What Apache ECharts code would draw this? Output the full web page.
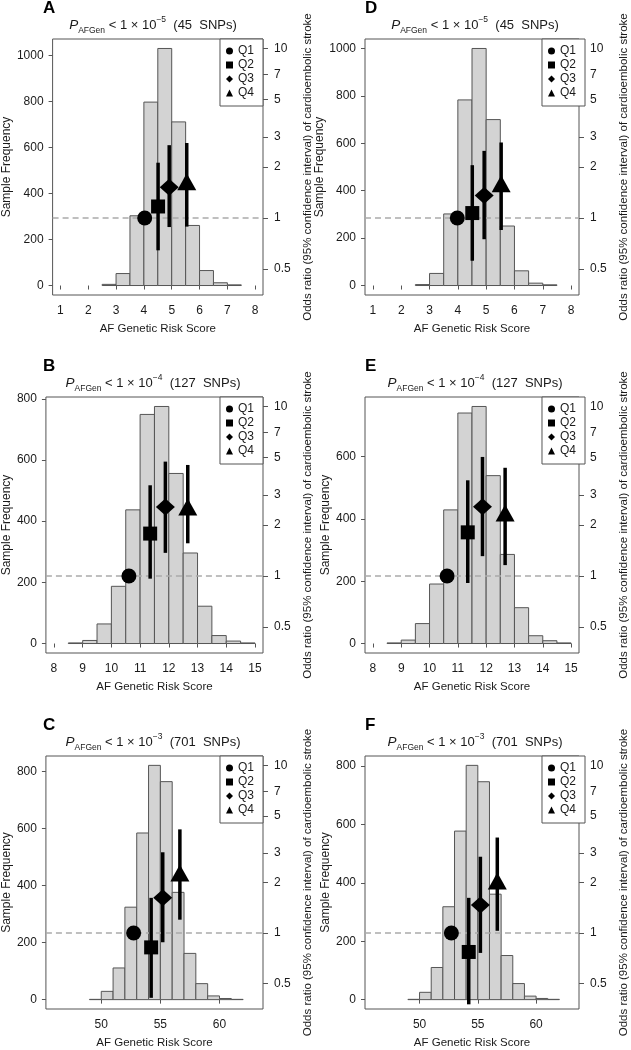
<!DOCTYPE html>
<html><head><meta charset="utf-8">
<script src="https://cdn.jsdelivr.net/npm/echarts@6/dist/echarts.min.js"></script>
<style>html,body{margin:0;padding:0;background:#fff}#c{width:631px;height:1050px}</style>
</head><body><div id="c"></div>
<script>
// ---------- data ----------
const quartiles = ['Q1', 'Q2', 'Q3', 'Q4'];
const panelLetters = ['A', 'B', 'C', 'D', 'E', 'F'];
const thresholdExps = ['−5', '−4', '−3', '−5', '−4', '−3'];
const snpCounts = [45, 127, 701, 45, 127, 701];

// histogram bins (left edges) and widths
const binStartsAD = [2.5, 3, 3.5, 4, 4.5, 5, 5.5, 6, 6.5, 7];
const binStartsBE = [8.5, 9, 9.5, 10, 10.5, 11, 11.5, 12, 12.5, 13, 13.5, 14, 14.5];
const binStartsCF = [49, 50, 51, 52, 53, 54, 55, 56, 57, 58, 59, 60, 61];
const binWidthAD = 0.5, binWidthBE = 0.5, binWidthCF = 1;

// histogram counts
const countsA = [5, 52, 303, 797, 1030, 711, 261, 65, 12, 3];
const countsB = [2, 10, 64, 187, 437, 749, 775, 556, 296, 122, 26, 8, 2];
const countsC = [1, 29, 111, 324, 584, 821, 764, 376, 162, 56, 13, 4, 1];
const countsD = [4, 51, 302, 783, 1000, 700, 251, 62, 10, 3];
const countsE = [2, 11, 64, 191, 429, 740, 761, 539, 286, 115, 25, 9, 2];
const countsF = [1, 25, 110, 318, 577, 802, 746, 361, 151, 55, 12, 4, 1];

// axis limits and tick labels
const xLimAD = [1, 8], xLimBE = [8, 15], xLimCF = [46, 63];
const xTicksAD = [1, 2, 3, 4, 5, 6, 7, 8];
const xTicksBE = [8, 9, 10, 11, 12, 13, 14, 15];
const xTicksCF = [50, 55, 60];
const freqTicks = [0, 200, 400, 600, 800, 1000];
const orTicks = [0.5, 1, 2, 3, 5, 7, 10];
const orLim = [0.4, 10];

// quartile points: score position, odds ratio, 95% CI
const qxA = [4.03, 4.51, 4.91, 5.54], orA = [1.0, 1.17, 1.52, 1.57], loA = [null, 0.645, 0.885, 0.89], hiA = [null, 2.12, 2.69, 2.77];
const qxB = [10.61, 11.35, 11.88, 12.66], orB = [1.0, 1.78, 2.55, 2.45], loB = [null, 0.965, 1.37, 1.56], hiB = [null, 3.43, 4.73, 4.52];
const qxC = [52.74, 54.22, 55.20, 56.65], orC = [1.0, 0.82, 1.62, 2.19], loC = [null, 0.41, 0.88, 1.20], hiC = [null, 1.62, 3.03, 4.15];
const qxD = [3.98, 4.51, 4.93, 5.53], orD = [1.0, 1.07, 1.36, 1.53], loD = [null, 0.56, 0.75, 0.85], hiD = [null, 2.05, 2.49, 2.79];
const qxE = [10.62, 11.35, 11.87, 12.67], orE = [1.0, 1.81, 2.56, 2.26], loE = [null, 0.91, 1.31, 1.16], hiE = [null, 3.67, 5.04, 4.35];
const qxF = [52.73, 54.22, 55.22, 56.67], orF = [1.0, 0.77, 1.47, 1.96], loF = [null, 0.375, 0.76, 1.03], hiF = [null, 1.62, 2.85, 3.71];

// ---------- assembly ----------
const panels = [
  {bins: binStartsAD, w: binWidthAD, counts: countsA, xlim: xLimAD, xticks: xTicksAD, qx: qxA, qor: orA, lo: loA, hi: hiA},
  {bins: binStartsBE, w: binWidthBE, counts: countsB, xlim: xLimBE, xticks: xTicksBE, qx: qxB, qor: orB, lo: loB, hi: hiB},
  {bins: binStartsCF, w: binWidthCF, counts: countsC, xlim: xLimCF, xticks: xTicksCF, qx: qxC, qor: orC, lo: loC, hi: hiC},
  {bins: binStartsAD, w: binWidthAD, counts: countsD, xlim: xLimAD, xticks: xTicksAD, qx: qxD, qor: orD, lo: loD, hi: hiD},
  {bins: binStartsBE, w: binWidthBE, counts: countsE, xlim: xLimBE, xticks: xTicksBE, qx: qxE, qor: orE, lo: loE, hi: hiE},
  {bins: binStartsCF, w: binWidthCF, counts: countsF, xlim: xLimCF, xticks: xTicksCF, qx: qxF, qor: orF, lo: loF, hi: hiF}
];
const boxes = [
  {left: 43, top: 39}, {left: 43, top: 397}, {left: 43, top: 756},
  {left: 365, top: 39}, {left: 365, top: 397}, {left: 365, top: 756}
];
const BOXW = 220, BOXH = 256, CW = 631;
const FONT = '"Liberation Sans", Arial, sans-serif';
const TXT = '#1a1a1a', AX = '#555';

const symbols = ['circle', 'rect', 'diamond', 'triangle'];
const symSizes = [15, 14, [19, 17], [19, 17]];
const symOffsets = [[0, 0], [0, 0], [0, 0], [0, -3]];

const lgOR = [Math.log10(orLim[0]), Math.log10(orLim[1])];
const dOR = lgOR[1] - lgOR[0];
const orMin = Math.pow(10, lgOR[0] - 0.04 * dOR);
const orMax = Math.pow(10, lgOR[1] + 0.04 * dOR);

const grid = [], xAxis = [], yAxis = [], series = [], legend = [], graphic = [];

panels.forEach((p, i) => {
  const b = boxes[i];
  grid.push({left: b.left, top: b.top, width: BOXW, height: BOXH, show: true,
    borderColor: AX, borderWidth: 1, backgroundColor: 'transparent'});
  const xr = p.xlim[1] - p.xlim[0];
  xAxis.push({
    type: 'value', gridIndex: i, min: p.xlim[0] - 0.04 * xr, max: p.xlim[1] + 0.04 * xr,
    axisLine: {show: false}, splitLine: {show: false},
    axisTick: {show: true, length: 4, customValues: p.xticks, lineStyle: {color: AX}},
    axisLabel: {customValues: p.xticks, margin: 10, fontSize: 12, color: TXT, fontFamily: FONT,
      formatter: v => String(v)},
    name: 'AF Genetic Risk Score', nameLocation: 'middle', nameGap: 28,
    nameTextStyle: {fontSize: 11.5, color: TXT, fontFamily: FONT}
  });
  const cmax = Math.max(...p.counts);
  yAxis.push({
    type: 'value', gridIndex: i, position: 'left', min: -0.04 * cmax, max: 1.04 * cmax,
    axisLine: {show: false}, splitLine: {show: false},
    axisTick: {show: true, length: 4, customValues: freqTicks, lineStyle: {color: AX}},
    axisLabel: {customValues: freqTicks, margin: 9, fontSize: 12, color: TXT, fontFamily: FONT,
      formatter: v => String(v)},
    name: 'Sample Frequency', nameLocation: 'middle', nameGap: 31, nameRotate: 90,
    nameTextStyle: {fontSize: 12, color: TXT, fontFamily: FONT}
  });
  yAxis.push({
    type: 'log', logBase: 10, gridIndex: i, position: 'right', min: orMin, max: orMax,
    axisLine: {show: false}, splitLine: {show: false},
    axisTick: {show: true, length: 5, customValues: orTicks, lineStyle: {color: AX}},
    axisLabel: {customValues: orTicks, margin: 11, fontSize: 12, color: TXT, fontFamily: FONT},
    name: 'Odds ratio (95% confidence interval) of cardioembolic stroke',
    nameLocation: 'middle', nameGap: 39, nameRotate: 90,
    nameTextStyle: {fontSize: 11.5, color: TXT, fontFamily: FONT}
  });

  // histogram
  series.push({
    type: 'custom', xAxisIndex: i, yAxisIndex: 2 * i, silent: true, z: 1,
    data: p.bins.map((s, k) => [s, s + p.w, p.counts[k]]),
    encode: {x: [0, 1], y: 2},
    renderItem: (params, api) => {
      const p0 = api.coord([api.value(0), 0]);
      const p1 = api.coord([api.value(1), api.value(2)]);
      return {type: 'rect',
        shape: {x: p0[0], y: p1[1], width: p1[0] - p0[0], height: p0[1] - p1[1]},
        style: {fill: '#d3d3d3', stroke: AX, lineWidth: 1}};
    }
  });
  // error bars
  const eb = [];
  p.qx.forEach((x, q) => { if (p.lo[q] != null) eb.push([x, p.lo[q], p.hi[q]]); });
  series.push({
    type: 'custom', xAxisIndex: i, yAxisIndex: 2 * i + 1, silent: true, z: 3,
    data: eb, encode: {x: 0, y: [1, 2]},
    renderItem: (params, api) => {
      const a = api.coord([api.value(0), api.value(1)]);
      const c = api.coord([api.value(0), api.value(2)]);
      return {type: 'line', shape: {x1: a[0], y1: a[1], x2: c[0], y2: c[1]},
        style: {stroke: '#000', lineWidth: 3.5}};
    }
  });
  // points
  quartiles.forEach((qn, q) => {
    const s = {
      type: 'scatter', name: qn, xAxisIndex: i, yAxisIndex: 2 * i + 1, z: 4,
      data: [[p.qx[q], p.qor[q]]],
      symbol: symbols[q], symbolSize: symSizes[q], symbolOffset: symOffsets[q],
      itemStyle: {color: '#000', opacity: 1}
    };
    if (q === 0) {
      s.markLine = {silent: true, symbol: 'none', label: {show: false}, z: 2,
        lineStyle: {type: [6, 4], color: '#aaa', width: 1.5},
        data: [{yAxis: 1}]};
    }
    series.push(s);
  });

  legend.push({
    data: quartiles, orient: 'vertical', right: CW - (b.left + BOXW), top: b.top,
    itemWidth: 7, itemHeight: 7, itemGap: 2, selectedMode: false,
    padding: [6, 9, 7, 6], borderColor: AX, borderWidth: 1, borderRadius: 0,
    backgroundColor: '#fff',
    textStyle: {fontSize: 12, lineHeight: 12, color: TXT, fontFamily: FONT}
  });

  graphic.push({
    type: 'text', x: b.left, y: b.top - 31, z: 10,
    style: {text: panelLetters[i], fontSize: 17, fontWeight: 'bold', fontFamily: FONT,
      fill: '#000', align: 'left', verticalAlign: 'middle'}
  });
  graphic.push({
    type: 'text', x: b.left + BOXW / 2, y: b.top - 14, z: 10,
    style: {
      text: '{p|P}{s|AFGen}{t| < 1 × 10}{u|' + thresholdExps[i] + '}{t|  (' + snpCounts[i] + '  SNPs)}',
      align: 'center', verticalAlign: 'middle', fontFamily: FONT, fill: TXT,
      rich: {
        p: {fontSize: 13.5, fontStyle: 'italic', lineHeight: 20, fontFamily: FONT, fill: TXT},
        s: {fontSize: 8.5, lineHeight: 14, verticalAlign: 'bottom', fontFamily: FONT, fill: TXT},
        t: {fontSize: 13, lineHeight: 20, fontFamily: FONT, fill: TXT},
        u: {fontSize: 8.5, lineHeight: 10, verticalAlign: 'top', fontFamily: FONT, fill: TXT}
      }
    }
  });
});

const chart = echarts.init(document.getElementById('c'), null, {renderer: 'canvas'});
chart.setOption({
  animation: false,
  backgroundColor: '#fff',
  textStyle: {fontFamily: FONT},
  grid, xAxis, yAxis, series, legend, graphic
});
</script></body></html>
